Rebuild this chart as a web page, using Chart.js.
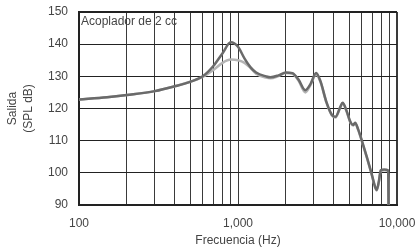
<!DOCTYPE html>
<html>
<head>
<meta charset="utf-8">
<script src="https://cdn.jsdelivr.net/npm/chart.js@4"></script>
<style>
  html, body { margin: 0; padding: 0; background: #fff; }
  #wrap { width: 415px; height: 248px; }
</style>
</head>
<body>
<div id="wrap"><canvas id="freqChart" width="415" height="248"></canvas></div>
<script>
// frequency points (Hz)
const frequencies = [100, 150, 200, 300, 400, 500, 600, 700, 800, 900, 1000, 1100, 1200, 1300, 1500, 1600,
    1800, 2000, 2200, 2400, 2650, 2850, 3100, 3300, 3600, 3900, 4100, 4400, 4550, 4800, 5100, 5300, 5450,
    5700, 6100, 6500, 6900, 7300, 7450, 7700, 7900, 8300, 8800, 8850];

// dark curve (SPL dB)
const darkValues = [122.8, 123.5, 124.2, 125.4, 126.9, 128.3, 130.0, 133.2, 137.2, 140.6, 139.2, 135.5, 132.8, 131.2, 130.0, 129.7,
    130.3, 131.2, 131.0, 129.0, 125.7, 127.5, 131.0, 128.5, 122.0, 118.0, 117.4, 120.5, 121.8, 119.5, 115.8, 114.9, 115.6,
    113.5, 109.0, 104.5, 100.0, 95.5, 94.7, 97.5, 100.8, 101.0, 100.8, 89.0];

// light curve (SPL dB)
const lightValues = [122.8, 123.5, 124.2, 125.4, 126.9, 128.3, 129.8, 132.0, 134.2, 135.2, 135.0, 134.2, 132.6, 130.8, 129.6, 129.4,
    130.1, 131.0, 130.8, 128.7, 125.0, 127.2, 130.6, 128.3, 121.8, 117.8, 117.2, 120.3, 121.6, 119.3, 115.6, 114.7, 115.4,
    113.3, 108.8, 104.3, 99.8, 95.3, 94.5, 97.3, 100.6, 100.8, 100.6, 89.0];

const xTickValues = [100, 200, 300, 400, 500, 600, 700, 800, 900, 1000, 2000, 3000, 4000, 5000, 6000, 7000, 8000, 9000, 10000];
const xLabels = { 100: "100", 1000: "1,000", 10000: "10,000" };
const yTicks = [90, 100, 110, 120, 130, 140, 150];
const chartLabel = "Acoplador de 2 cc";

const FONT = "'Liberation Sans', Arial, sans-serif";

function toPoints(values) {
    return frequencies.map((f, i) => ({ x: f, y: values[i] }));
}

const insideLabel = {
    id: 'insideLabel',
    afterDraw(chart) {
        const { ctx, chartArea } = chart;
        ctx.save();
        ctx.font = "12px " + FONT;
        ctx.fillStyle = "#444";
        ctx.textBaseline = "middle";
        ctx.textAlign = "left";
        ctx.fillText(chartLabel, chartArea.left + 2, chartArea.top + 10);
        ctx.restore();
    }
};

new Chart(document.getElementById('freqChart'), {
    type: 'line',
    data: {
        datasets: [{
            label: 'dark',
            data: toPoints(darkValues),
            borderColor: '#6a6a6a',
            borderWidth: 2.5,
            pointRadius: 0,
            cubicInterpolationMode: 'monotone',
            order: 0
        }, {
            label: 'light',
            data: toPoints(lightValues),
            borderColor: '#b4b4b4',
            borderWidth: 2.5,
            pointRadius: 0,
            cubicInterpolationMode: 'monotone',
            order: 1
        }]
    },
    options: {
        responsive: false,
        animation: false,
        devicePixelRatio: 1,
        layout: { padding: { left: 5, right: 18, top: 12, bottom: 0 } },
        plugins: {
            legend: { display: false },
            tooltip: { enabled: false }
        },
        scales: {
            x: {
                type: 'logarithmic',
                min: 100,
                max: 10000,
                afterBuildTicks: (scale) => {
                    scale.ticks = xTickValues.map(v => ({ value: v, major: !!xLabels[v] }));
                },
                afterFit: (scale) => {
                    scale.height = 43;
                    scale.paddingLeft = 0;
                    scale.paddingRight = 0;
                },
                ticks: {
                    autoSkip: false,
                    maxRotation: 0,
                    padding: 11,
                    color: '#444',
                    font: { family: FONT, size: 12 },
                    callback: (v) => xLabels[v] || ''
                },
                grid: {
                    drawTicks: false,
                    color: '#3a3a3a',
                    lineWidth: (ctx) => (ctx.tick && ctx.tick.value === 10000 ? 2 : 1)
                },
                border: { color: '#222', width: 2 },
                title: {
                    display: true,
                    text: 'Frecuencia (Hz)',
                    color: '#444',
                    font: { family: FONT, size: 12 },
                    padding: { top: 3, bottom: 0 }
                }
            },
            y: {
                min: 90,
                max: 150,
                afterBuildTicks: (scale) => {
                    scale.ticks = yTicks.map(v => ({ value: v }));
                },
                afterFit: (scale) => {
                    scale.width = 74;
                    scale.paddingTop = 0;
                    scale.paddingBottom = 0;
                },
                ticks: {
                    padding: 11,
                    color: '#444',
                    font: { family: FONT, size: 12 }
                },
                grid: {
                    drawTicks: false,
                    color: '#222',
                    lineWidth: (ctx) => (ctx.tick && ctx.tick.value === 150 ? 2 : 1)
                },
                border: { color: '#222', width: 2 },
                title: {
                    display: true,
                    text: ['Salida', '(SPL dB)'],
                    color: '#444',
                    font: { family: FONT, size: 12, lineHeight: 1.3 },
                    padding: { top: 0, bottom: 0 }
                }
            }
        }
    },
    plugins: [insideLabel]
});
</script>
</body>
</html>
